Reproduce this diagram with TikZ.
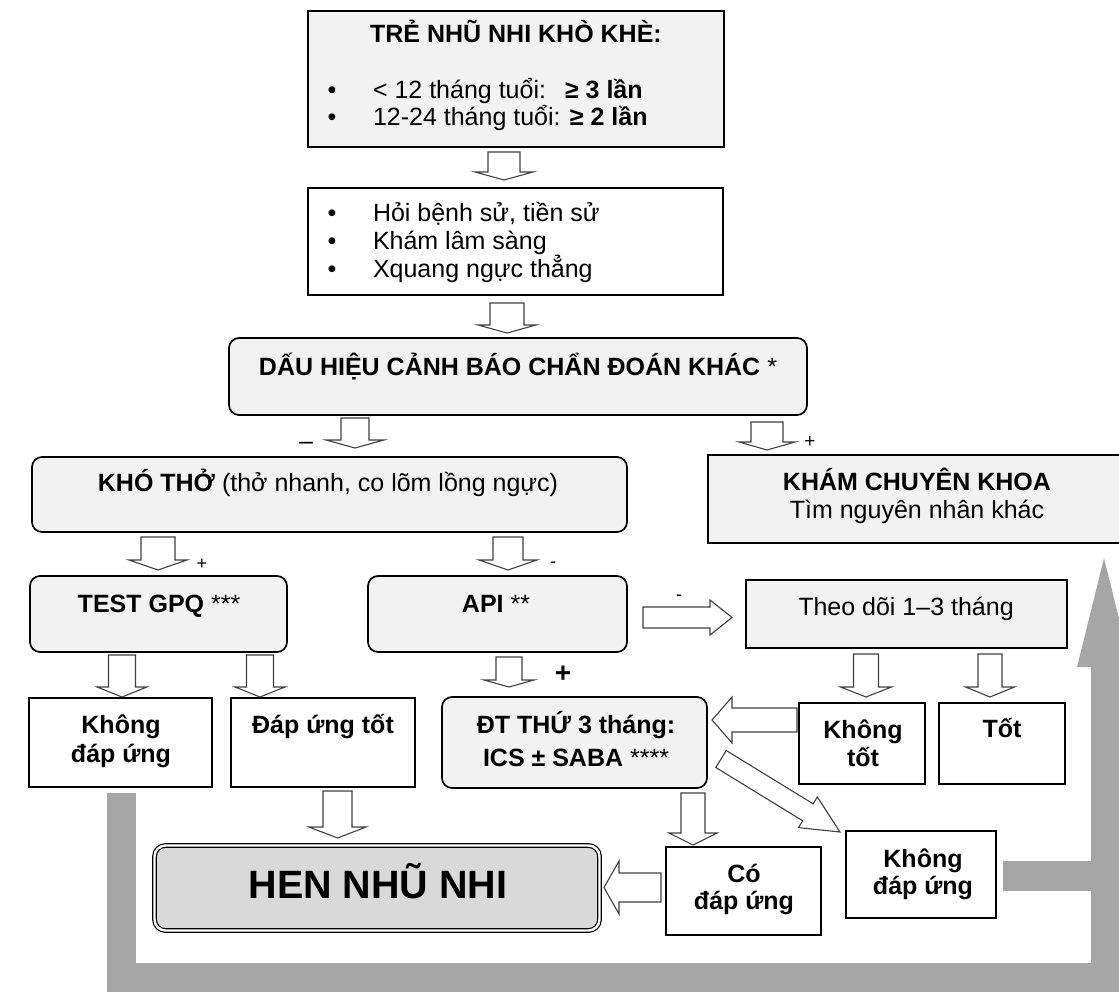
\documentclass[tikz,border=0pt]{standalone}
\usepackage{fontspec}
\usetikzlibrary{calc}
\setmainfont{Liberation Sans}
\definecolor{boxgray}{HTML}{F2F2F2}
\definecolor{hengray}{HTML}{D9D9D9}
\definecolor{bargray}{HTML}{A6A6A6}
\definecolor{arrowline}{HTML}{404040}
\newcommand\vblk[6]{\draw[blk] (#1-#5,#2) -- (#1+#5,#2) -- (#1+#5,#3) -- (#1+#6,#3) -- (#1,#4) -- (#1-#6,#3) -- (#1-#5,#3) -- cycle;}
\newcommand\hblk[6]{\draw[blk] (#2,#1-#5) -- (#3,#1-#5) -- (#3,#1-#6) -- (#4,#1) -- (#3,#1+#6) -- (#3,#1+#5) -- (#2,#1+#5) -- cycle;}
\begin{document}
\begin{tikzpicture}[x=1pt,y=-1pt,
  box/.style={draw=black, line width=1.7pt, inner sep=0pt, outer sep=0pt},
  gbox/.style={box, fill=boxgray},
  wbox/.style={box, fill=white},
  rbox/.style={box, fill=boxgray, rounded corners=10pt},
  txt/.style={inner sep=0pt, outer sep=0pt, anchor=base, font=\fontsize{25}{28}\selectfont},
  btxt/.style={txt, font=\fontsize{25}{28}\selectfont\bfseries},
  ltxt/.style={txt, anchor=base west},
  sign/.style={inner sep=0pt, anchor=base, font=\fontsize{19}{20}\selectfont},
  blk/.style={draw=arrowline, fill=white, line width=1.1pt, line join=miter},
  bar/.style={draw=bargray, line width=29pt, line join=miter}]
\useasboundingbox (0,0) rectangle (1119,992);
\clip (0,0) rectangle (1119,992);

% ---------- boxes ----------
\node[gbox, minimum width=416pt, minimum height=136pt] (b1) at (516,79) {};
\node[wbox, minimum width=415pt, minimum height=107pt] (b2) at (515.5,241.5) {};
\node[rbox, minimum width=578pt, minimum height=77pt] (b3) at (518,376.5) {};
\node[rbox, minimum width=595pt, minimum height=75pt] (kho) at (329.5,494.5) {};
\node[gbox, minimum width=418pt, minimum height=88pt] (kham) at (917,499) {};
\node[rbox, minimum width=257pt, minimum height=76pt] (test) at (158.5,614) {};
\node[rbox, minimum width=259pt, minimum height=76pt] (api) at (497.5,614) {};
\node[gbox, minimum width=321pt, minimum height=68pt] (theo) at (906.5,614) {};
\node[wbox, minimum width=183pt, minimum height=89pt] (kdl) at (120.5,742.5) {};
\node[wbox, minimum width=184pt, minimum height=89pt] (dut) at (323,742.5) {};
\node[rbox, minimum width=265pt, minimum height=91pt] (dt) at (574.5,742.5) {};
\node[wbox, minimum width=126pt, minimum height=81pt] (kt) at (862,743.5) {};
\node[wbox, minimum width=126pt, minimum height=81pt] (tot) at (1002,743.5) {};
\node[wbox, minimum width=155pt, minimum height=88pt] (co) at (743.5,891) {};
\node[wbox, minimum width=150pt, minimum height=87pt] (kdr) at (921,874.5) {};
\node[box, fill=hengray, draw=black, line width=1.2pt, double=white, double distance=2.4pt,
      rounded corners=11pt, minimum width=445pt, minimum height=85pt] (hen) at (377,888) {};

% ---------- texts ----------
\node[btxt] (b1t) at (516,43) {TRẺ NHŨ NHI KHÒ KHÈ:};
\node[txt] (b1d1) at (332,99) {•};
\node[ltxt] (b1l1) at (373,99) {< 12 tháng tuổi:};
\node[ltxt, font=\fontsize{25}{28}\selectfont\bfseries] (b1r1) at (565,99) {≥ 3 lần};
\node[txt] (b1d2) at (332,126) {•};
\node[ltxt] (b1l2) at (373,126) {12-24 tháng tuổi: {\bfseries ≥ 2 lần}};

\node[txt] (b2d1) at (332,222) {•};
\node[ltxt] (b2l1) at (373,222) {Hỏi bệnh sử, tiền sử};
\node[txt] (b2d2) at (332,250) {•};
\node[ltxt] (b2l2) at (373,250) {Khám lâm sàng};
\node[txt] (b2d3) at (332,278) {•};
\node[ltxt] (b2l3) at (373,278) {Xquang ngực thẳng};

\node[btxt] (b3t) at (518,375) {DẤU HIỆU CẢNH BÁO CHẨN ĐOÁN KHÁC {\mdseries *}};
\node[txt] (khot) at (328,491) {{\bfseries KHÓ THỞ} (thở nhanh, co lõm lồng ngực)};
\node[btxt] (khamt1) at (917,490) {KHÁM CHUYÊN KHOA};
\node[txt] (khamt2) at (917,518) {Tìm nguyên nhân khác};
\node[txt] (testt) at (159,612) {{\bfseries TEST GPQ} ***};
\node[txt] (apit) at (496,612) {{\bfseries API} **};
\node[txt] (theot) at (906,615) {Theo dõi 1–3 tháng};
\node[btxt] (kdlt1) at (121,733) {Không};
\node[btxt] (kdlt2) at (121,762) {đáp ứng};
\node[btxt] (dutt) at (323,733) {Đáp ứng tốt};
\node[btxt] (dtt1) at (576,733) {ĐT THỨ 3 tháng:};
\node[txt] (dtt2) at (576,766) {{\bfseries ICS ± SABA} ****};
\node[btxt] (ktt1) at (863,738) {Không};
\node[btxt] (ktt2) at (863,766) {tốt};
\node[btxt] (tott) at (1002,737) {Tốt};
\node[btxt] (cot1) at (744,882) {Có};
\node[btxt] (cot2) at (744,909) {đáp ứng};
\node[btxt] (kdrt1) at (923,867) {Không};
\node[btxt] (kdrt2) at (923,894) {đáp ứng};
\node[txt, font=\fontsize{39.5}{42}\selectfont\bfseries] (hent) at (378,898) {HEN NHŨ NHI};

% ---------- block arrows ----------
\vblk{504}{152}{172}{180}{16}{29}
\vblk{507}{303}{325}{333}{17}{29}
\vblk{355}{418}{440}{448}{14}{29}
\vblk{767}{422}{442}{450}{16}{28}
\vblk{158}{537}{560}{570}{17}{29}
\vblk{508}{537}{560}{570}{15}{29}
\hblk{617.5}{643}{710}{732}{10.5}{17.5}
\vblk{122}{655}{687}{697}{13.5}{25}
\vblk{260}{655}{687}{697}{13.5}{25}
\vblk{509}{657}{680}{687}{13}{25}
\vblk{866}{654}{687}{697}{12.5}{25.5}
\vblk{990}{654}{687}{697}{12}{24.5}
\hblk{720}{797}{732}{712}{12}{23}
\vblk{693}{793}{833}{845}{12}{24}
\hblk{887.5}{661}{619}{604}{14.5}{26.5}
\vblk{337.5}{791}{827}{838}{14.5}{28.5}
\draw[blk] (726.2,750.5) -- (813.1,803.8) -- (817.3,797.0) -- (840,832)
  -- (798.5,827.6) -- (802.7,820.8) -- (715.8,767.5) -- cycle;

% ---------- signs ----------
\node[sign, font=\fontsize{25}{26}\selectfont] (s1) at (306,449) {–};
\node[sign] (s2) at (810,447) {+};
\node[sign, font=\fontsize{18}{20}\selectfont] (s3) at (202,569) {+};
\node[sign, font=\fontsize{18}{20}\selectfont] (s4) at (553,567) {-};
\node[sign, font=\fontsize{18}{20}\selectfont] (s5) at (679,600) {-};
\node[sign, font=\fontsize{28}{30}\selectfont\bfseries] (s6) at (563,682) {+};

% ---------- grey return connectors ----------
\draw[bar] ($(kdl.south)+(0.5,6)$) -- (121,977) -- (1105,977) -- (1105,666);
\draw[bar, line width=30pt] ($(kdr.east)+(7,1.5)$) -- (1105,876);
\fill[bargray] (1077,667) -- (1104,558) -- (1131,667) -- cycle;
\end{tikzpicture}
\end{document}
